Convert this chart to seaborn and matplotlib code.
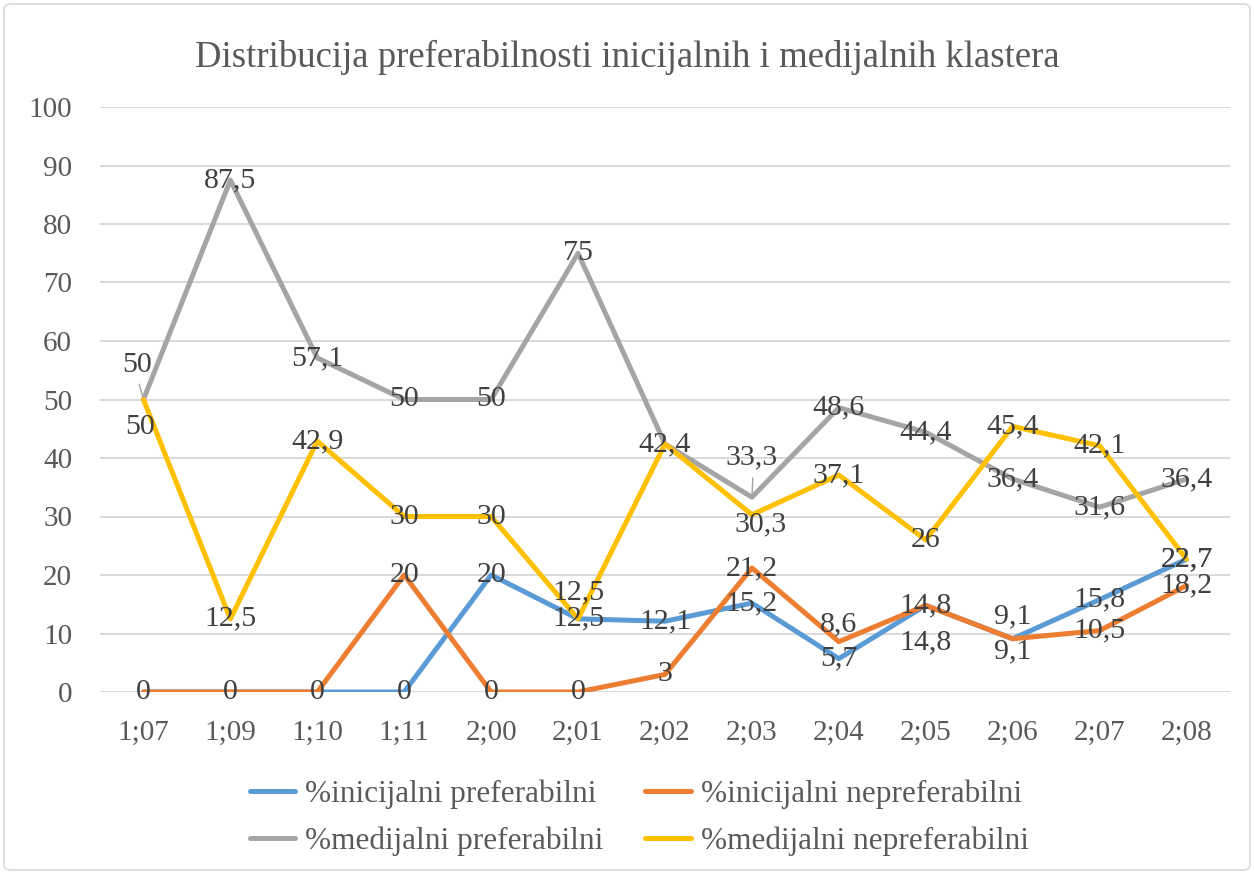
import matplotlib
matplotlib.use("Agg")
import matplotlib.pyplot as plt
import seaborn as sns
import pandas as pd
from matplotlib.patches import FancyBboxPatch
from matplotlib.lines import Line2D

categories = ["1;07", "1;09", "1;10", "1;11", "2;00", "2;01", "2;02",
              "2;03", "2;04", "2;05", "2;06", "2;07", "2;08"]
inic_pref = [0, 0, 0, 0, 20, 12.5, 12.1, 15.2, 5.7, 14.8, 9.1, 15.8, 22.7]
inic_nepref = [0, 0, 0, 20, 0, 0, 3, 21.2, 8.6, 14.8, 9.1, 10.5, 18.2]
med_pref = [50, 87.5, 57.1, 50, 50, 75, 42.4, 33.3, 48.6, 44.4, 36.4, 31.6, 36.4]
med_nepref = [50, 12.5, 42.9, 30, 30, 12.5, 42.4, 30.3, 37.1, 26, 45.4, 42.1, 22.7]
series_names = ["%inicijalni preferabilni", "%inicijalni nepreferabilni",
                "%medijalni preferabilni", "%medijalni nepreferabilni"]
title = "Distribucija preferabilnosti inicijalnih i medijalnih klastera"

colors = ["#5B9BD5", "#ED7D31", "#A5A5A5", "#FFC000"]
series = [inic_pref, inic_nepref, med_pref, med_nepref]

sns.set_theme(style="white")
plt.rcParams["font.family"] = ["Liberation Serif", "DejaVu Serif"]

rows = []
for name, vals in zip(series_names, series):
    for c, v in zip(categories, vals):
        rows.append({"cat": c, "val": v, "series": name})
df = pd.DataFrame(rows)

fig = plt.figure(figsize=(12.54, 8.73), dpi=100)
ax = fig.add_axes([100 / 1254, 1 - 692 / 873, 1130 / 1254, 585 / 873])

LW = 3.6
sns.lineplot(data=df, x="cat", y="val", hue="series", hue_order=series_names,
             palette=colors, linewidth=LW, sort=False, ax=ax, legend=False)
for line in ax.lines:
    line.set_solid_capstyle("round")
    line.set_solid_joinstyle("round")

ax.set_xlim(-0.5, len(categories) - 0.5)
ax.set_ylim(0, 100)
ax.set_yticks(range(0, 101, 10))
ax.yaxis.grid(True, color="#D9D9D9", linewidth=1.4)
ax.set_axisbelow(True)
for s in ["top", "right", "left", "bottom"]:
    ax.spines[s].set_visible(False)
ax.tick_params(axis="both", length=0, labelsize=21, colors="#595959")
ax.tick_params(axis="y", pad=20)
ax.tick_params(axis="x", pad=20)
ax.set_xlabel("")
ax.set_ylabel("")

# data labels: default centered on the point; some moved (pixels, up positive)
offsets = {
    (2, 0): (-6, 35), (3, 0): (-3, -27),
    (2, 7): (0, 40), (3, 7): (9, -10),
    (1, 8): (0, 17), (0, 9): (0, -37),
    (1, 10): (0, 22), (0, 10): (0, -13),
    (3, 5): (0, 27),
}
for si, vals in enumerate(series):
    for ci, v in enumerate(vals):
        if si == 3 and ci == 6:
            continue  # shares label with gray 42,4
        if si == 0 and ci in (0, 1, 2):
            continue  # hidden under orange 0
        dx, dy = offsets.get((si, ci), (0, 0))
        txt = f"{v:g}".replace(".", ",")
        ax.annotate(txt, (ci, v), xytext=(dx * 0.72, dy * 0.72),
                    textcoords="offset points", ha="center", va="center",
                    fontsize=21.5, color="#404040")

# small leader lines
ax.annotate("", (0, 50), xytext=(-5 * 0.72, 18 * 0.72), textcoords="offset points",
            arrowprops=dict(arrowstyle="-", color="#A5A5A5", lw=1))
ax.annotate("", (7, 33.3), xytext=(1 * 0.72, 22 * 0.72), textcoords="offset points",
            arrowprops=dict(arrowstyle="-", color="#A5A5A5", lw=1))

fig.suptitle(title, x=0.5, y=1 - 57 / 873, va="center", fontsize=26.5,
             color="#595959")

handles = [Line2D([], [], color=c, linewidth=LW, solid_capstyle="round") for c in colors]
order = [0, 2, 1, 3]
fig.legend([handles[i] for i in order], [series_names[i] for i in order],
           ncol=2, loc="center", bbox_to_anchor=(639 / 1254, 1 - 818 / 873),
           frameon=False, fontsize=22.5, labelcolor="#595959",
           handlelength=1.45, handletextpad=0.32, columnspacing=1.35,
           labelspacing=0.55, borderpad=0.2)

border = FancyBboxPatch((4 / 1254, 3 / 873), 1246 / 1254, 866 / 873,
                        boxstyle="round,pad=0,rounding_size=0.006",
                        transform=fig.transFigure, fill=False,
                        edgecolor="#D9D9D9", linewidth=1.2)
fig.patches.append(border)

fig.savefig("out.png", dpi=100)
